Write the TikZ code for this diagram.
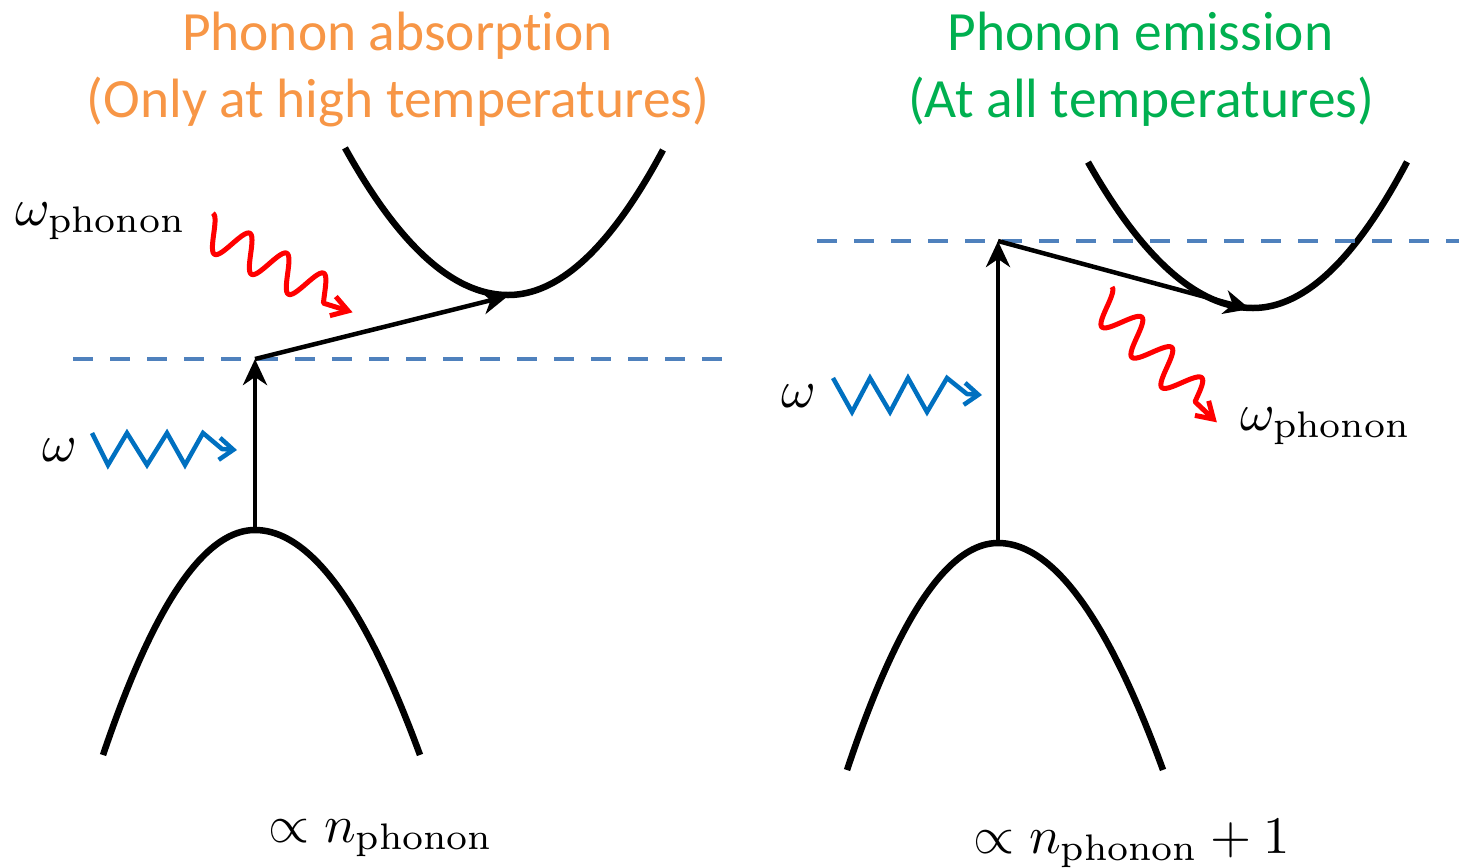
\RequirePackage{fix-cm}
\documentclass[tikz,border=0pt]{standalone}
\usepackage{graphicx}
\usepackage{fontspec}
\newfontfamily\calibri[Ligatures={NoCommon}]{Carlito}
\usetikzlibrary{arrows.meta}
\definecolor{absorbc}{HTML}{F79646}
\definecolor{emitc}{HTML}{00B050}
\definecolor{photonc}{HTML}{0070C0}
\definecolor{levelc}{HTML}{4F81BD}
\definecolor{phononc}{HTML}{FF0000}
\newcommand{\bigmath}[1]{\scalebox{2.64}{$#1$}}
\begin{document}
\begin{tikzpicture}[x=0.5pt,y=-0.5pt,
  band/.style={line width=3.25pt},
  trans/.style={line width=2.25pt,-{Stealth[length=13pt,width=12pt,inset=4pt]}},
  virt/.style={levelc,line width=2.25pt,dash pattern=on 10pt off 8.5pt},
  photonw/.style={photonc,line width=2.25pt,line join=miter,-{Straight Barb[length=7pt,width=11pt]}},
  phononw/.style={phononc,line width=2.5pt,line join=round,-{Straight Barb[length=8pt,width=10pt]}},
  titletext/.style={font=\calibri\fontsize{27.7}{33}\selectfont,anchor=base,inner sep=0pt},
  mlabel/.style={font=\fontsize{10}{12}\selectfont,anchor=base west,inner sep=0pt},
]
\useasboundingbox (0,0) rectangle (1459,867);

% ---------- titles ----------
\node[titletext,text=absorbc] (tA1) at (397.5,50) {Phonon absorption};
\node[titletext,text=absorbc] (tA2) at (398,117) {(Only at high temperatures)};
\node[titletext,text=emitc] (tE1) at (1140.5,50) {Phonon emission};
\node[titletext,text=emitc] (tE2) at (1141,117) {(At all temperatures)};

% ---------- left panel ----------
\coordinate (vL) at (255,530);
\coordinate (iL) at (255,359);
\coordinate (cL) at (508,296);
\coordinate (dLa) at (73,359);
\coordinate (dLb) at (725,359);

\draw[band] plot[domain=345:508,samples=60] (\x,{295-(0.0744*(\x-508))^2})
  -- plot[domain=508:663,samples=60] (\x,{295-(0.0777*(\x-508))^2});
\draw[band] plot[domain=103:255,samples=60] (\x,{530+(0.0987*(\x-255))^2})
  -- plot[domain=255:420,samples=60] (\x,{530+(0.0909*(\x-255))^2});

\draw[virt] (dLa) -- (dLb);
\draw[trans] (vL) -- (iL);
\draw[trans] (iL) -- (cL);

\draw[photonw] (92,433) -- (108,465) -- (127,433) -- (147,465) -- (167,433)
  -- (185,465) -- (203,433) -- (222,449) -- (237,450);

\begin{scope}[shift={(204.5,228.8)},rotate=-28.4]
  \draw[phononw] plot[domain=0:140,samples=90,smooth] (\x,{-17.7*cos(8.5714*\x)}) -- (170,3);
\end{scope}

\node[mlabel] (wL) at (42,461) {\bigmath{\omega}};
\node[mlabel] (wpL) at (15,225) {\bigmath{\omega_{\mathrm{phonon}}}};
\node[mlabel] (pL) at (268,842) {\bigmath{\propto n_{\mathrm{phonon}}}};

% ---------- right panel ----------
\coordinate (vR) at (998,543);
\coordinate (iR) at (998,241);
\coordinate (cR) at (1250,309);
\coordinate (dRa) at (817,241);
\coordinate (dRb) at (1459,241);

\draw[band] plot[domain=1088:1253,samples=60] (\x,{308-(0.0732*(\x-1253))^2})
  -- plot[domain=1253:1407,samples=60] (\x,{308-(0.0785*(\x-1253))^2});
\draw[band] plot[domain=847:998,samples=60] (\x,{543+(0.0998*(\x-998))^2})
  -- plot[domain=998:1163,samples=60] (\x,{543+(0.0913*(\x-998))^2});

\draw[virt] (dRa) -- (dRb);
\draw[trans] (vR) -- (iR);
\draw[trans] (iR) -- (cR);

\draw[photonw] (833,378) -- (852,412) -- (870,378) -- (890,412) -- (908,378)
  -- (927,412) -- (947,378) -- (967,394) -- (982,395);

\begin{scope}[shift={(1099.4,299.4)},rotate=-45.3]
  \draw[phononw] plot[domain=0:140,samples=90,smooth] (\x,{-17.7*cos(8.4507*\x)}) -- (170,3);
\end{scope}

\node[mlabel] (wR) at (781,407) {\bigmath{\omega}};
\node[mlabel] (wpR) at (1240,430) {\bigmath{\omega_{\mathrm{phonon}}}};
\node[mlabel] (pR) at (973,853) {\bigmath{\propto n_{\mathrm{phonon}}+1}};
\end{tikzpicture}
\end{document}
